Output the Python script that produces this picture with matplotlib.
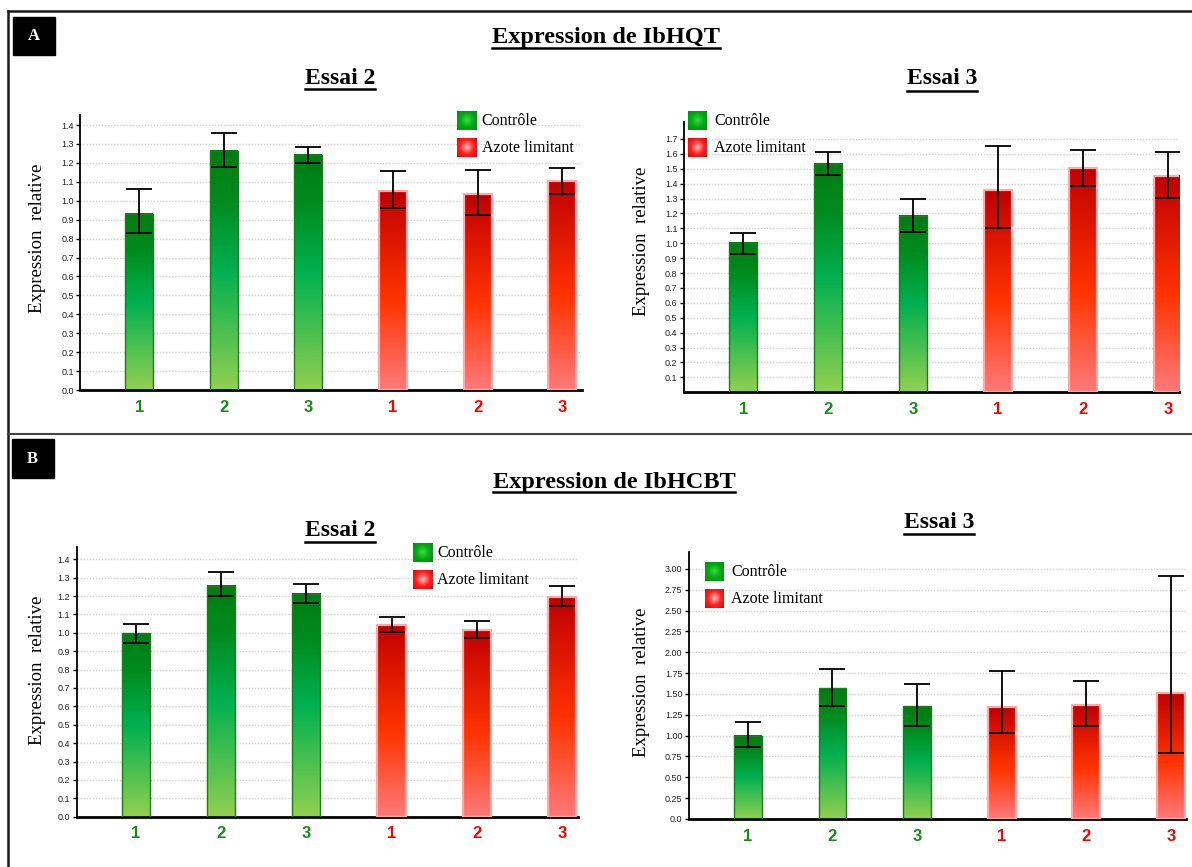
import numpy as np
import matplotlib.pyplot as plt
from matplotlib.colors import LinearSegmentedColormap
from matplotlib.patches import Rectangle
from matplotlib.lines import Line2D

# ---------------------------------------------------------------- data
samples = ['1', '2', '3', '1', '2', '3']
legend_labels = ['Contrôle', 'Azote limitant']

# IbHQT, essai 2
hqt2_mean = [0.93, 1.265, 1.243, 1.053, 1.035, 1.102]
hqt2_low = [0.829, 1.178, 1.197, 0.961, 0.926, 1.035]
hqt2_high = [1.062, 1.356, 1.282, 1.159, 1.164, 1.171]

# IbHQT, essai 3
hqt3_mean = [1.0, 1.535, 1.185, 1.355, 1.505, 1.45]
hqt3_low = [0.93, 1.46, 1.078, 1.105, 1.385, 1.305]
hqt3_high = [1.07, 1.615, 1.295, 1.65, 1.625, 1.615]

# IbHCBT, essai 2
hcbt2_mean = [1.0, 1.257, 1.213, 1.043, 1.017, 1.193]
hcbt2_low = [0.943, 1.198, 1.162, 1.006, 0.972, 1.146]
hcbt2_high = [1.05, 1.33, 1.267, 1.085, 1.062, 1.253]

# IbHCBT, essai 3
hcbt3_mean = [1.0, 1.57, 1.355, 1.345, 1.362, 1.515]
hcbt3_low = [0.865, 1.36, 1.115, 1.035, 1.115, 0.79]
hcbt3_high = [1.16, 1.80, 1.625, 1.77, 1.66, 2.92]

ticks_14 = [0.0, 0.1, 0.2, 0.3, 0.4, 0.5, 0.6, 0.7, 0.8, 0.9, 1.0, 1.1, 1.2, 1.3, 1.4]
ticks_17 = [0.1, 0.2, 0.3, 0.4, 0.5, 0.6, 0.7, 0.8, 0.9, 1.0, 1.1, 1.2, 1.3, 1.4, 1.5, 1.6, 1.7]
ticks_3 = [0.0, 0.25, 0.5, 0.75, 1.0, 1.25, 1.5, 1.75, 2.0, 2.25, 2.5, 2.75, 3.0]
ticks_3_labels = ['0.0', '0.25', '0.50', '0.75', '1.00', '1.25', '1.50', '1.75',
                  '2.00', '2.25', '2.50', '2.75', '3.00']

# ---------------------------------------------------------------- figure
W, H = 1192, 867
fig = plt.figure(figsize=(W / 100, H / 100), dpi=100)
fig.patch.set_facecolor('white')


def fx(x):
    return x / W


def fy(y):
    return 1 - y / H


cm_green = LinearSegmentedColormap.from_list(
    'g', [(0, '#92d050'), (0.5, '#00b050'), (0.8, '#008a1e'), (1, '#007d10')])
cm_red = LinearSegmentedColormap.from_list(
    'r', [(0, '#ff7a7a'), (0.45, '#ff3300'), (1, '#c00000')])
cm_leg_green = LinearSegmentedColormap.from_list('lg', ['#3ade3a', '#00a814', '#008c10'])
cm_leg_red = LinearSegmentedColormap.from_list('lr', ['#ffc0c0', '#ff2020', '#e00000'])

GREEN_TXT = '#1a8a1a'
RED_TXT = '#ff0000'


def panel(px, means, low, high, yticks, ylabels, ytop, xright, lab_xy):
    x0, y0, x1, y1 = px  # pixel box, y from top
    ax = fig.add_axes([fx(x0), fy(y1), (x1 - x0) / W, (y1 - y0) / H])
    means = np.array(means)
    low = np.array(low)
    high = np.array(high)
    xs = np.arange(len(means))
    w = 0.33
    grad = np.linspace(0, 1, 256).reshape(-1, 1)
    for t in yticks:
        ax.axhline(t, color='#d2d2d2', lw=1.0, ls=(0, (1, 1.2)), zorder=1)
    for i, (xi, m) in enumerate(zip(xs, means)):
        if i < 3:
            ax.imshow(grad, cmap=cm_green, origin='lower', aspect='auto',
                      extent=[xi - w / 2, xi + w / 2, 0, m], zorder=2)
            ax.add_patch(Rectangle((xi - w / 2, 0), w, m, fill=False,
                                   ec='#1f7a1f', lw=1.0, zorder=3))
        else:
            ax.imshow(grad, cmap=cm_red, origin='lower', aspect='auto',
                      extent=[xi - w / 2, xi + w / 2, 0, m], zorder=2)
            ax.add_patch(Rectangle((xi - w / 2, 0), w, m, fill=False,
                                   ec='#ffaaaa', lw=1.6, zorder=3))
    ax.errorbar(xs, means, yerr=[means - low, high - means], fmt='none',
                ecolor='black', elinewidth=1.3, capsize=9.5, capthick=1.3, zorder=4)
    ax.set_xlim(-0.70, xright)
    ax.set_ylim(0, ytop)
    ax.set_yticks(yticks)
    ax.set_yticklabels(ylabels, fontsize=6.5, family='Liberation Sans', color='#222222')
    ax.set_xticks(xs)
    ax.set_xticklabels(samples, fontsize=12, fontweight='bold', family='Liberation Sans')
    for i, lab in enumerate(ax.get_xticklabels()):
        lab.set_color(GREEN_TXT if i < 3 else RED_TXT)
    ax.tick_params(axis='y', length=3, width=1, pad=1.5)
    ax.tick_params(axis='x', length=0, pad=7)
    for s in ['top', 'right']:
        ax.spines[s].set_visible(False)
    ax.spines['left'].set_linewidth(1.3)
    ax.spines['bottom'].set_linewidth(2.0)
    ax.set_facecolor('none')
    ax.set_ylabel('Expression  relative', fontsize=13.5, family='Liberation Serif', va='center')
    ax.yaxis.set_label_coords(*lab_xy)
    return ax


def legend_box(xg, yg, xt):
    for k, (lab, cm) in enumerate(zip(legend_labels, [cm_leg_green, cm_leg_red])):
        top = yg + k * 27
        lax = fig.add_axes([fx(xg), fy(top + 19.5), 19 / W, 19.5 / H])
        yy, xx = np.mgrid[-1:1:40j, -1:1:40j]
        lax.imshow(np.hypot(xx, yy), cmap=cm, vmin=0, vmax=1.45, aspect='auto')
        lax.axis('off')
        fig.text(fx(xt), fy(top + 10), lab, fontsize=11.5, family='Liberation Serif',
                 va='center', ha='left')


panel((80, 115, 581.7, 390), hqt2_mean, hqt2_low, hqt2_high,
      ticks_14, ['%.1f' % t for t in ticks_14], 1.453, 5.23, (-0.084, 0.55))
panel((683.8, 121.7, 1179, 392.3), hqt3_mean, hqt3_low, hqt3_high,
      ticks_17, ['%.1f' % t for t in ticks_17], 1.816, 5.13, (-0.085, 0.557))
panel((76.5, 547.3, 578, 816.7), hcbt2_mean, hcbt2_low, hcbt2_high,
      ticks_14, ['%.1f' % t for t in ticks_14], 1.465, 5.19, (-0.077, 0.545))
panel((688.7, 552.3, 1186, 819), hcbt3_mean, hcbt3_low, hcbt3_high,
      ticks_3, ticks_3_labels, 3.2, 5.18, (-0.095, 0.514))

legend_box(457, 111, 481.5)
legend_box(688, 111, 714)
legend_box(413, 543, 437)
legend_box(705, 562, 731)

# titles (underlined)
underlined = []


def utitle(x, y, s, size, yline):
    t = fig.text(fx(x), fy(y), s, fontsize=size, fontweight='bold',
                 family='Liberation Serif', ha='center', va='center')
    underlined.append((t, yline))


utitle(606, 38, 'Expression de IbHQT', 17.5, 48)
utitle(340, 79, 'Essai 2', 17, 89)
utitle(942, 79, 'Essai 3', 17, 91)
utitle(614, 482, 'Expression de IbHCBT', 17.5, 492)
utitle(340, 530, 'Essai 2', 17, 541.5)
utitle(939, 523, 'Essai 3', 17, 534)

# frame and letter boxes
fig.add_artist(Line2D([fx(7.7), 1], [fy(11), fy(11)], color='#1a1a1a', lw=1.8))
fig.add_artist(Line2D([fx(7.7), fx(7.7)], [fy(11), 0], color='#1a1a1a', lw=1.8))
fig.add_artist(Line2D([fx(7.7), 1], [fy(433.5), fy(433.5)], color='#444444', lw=1.5))
for letter, (bx0, by0, bx1, by1) in [('A', (12.6, 16.7, 54.7, 55)),
                                      ('B', (11.5, 439.3, 53.6, 478.3))]:
    fig.add_artist(Rectangle((fx(bx0), fy(by1)), (bx1 - bx0) / W, (by1 - by0) / H,
                             transform=fig.transFigure, color='black'))
    fig.text(fx((bx0 + bx1) / 2), fy((by0 + by1) / 2), letter, color='white',
             fontsize=12, fontweight='bold', family='Liberation Serif',
             ha='center', va='center')

fig.canvas.draw()
r = fig.canvas.get_renderer()
for t, yline in underlined:
    bb = t.get_window_extent(r)
    fig.add_artist(Line2D([bb.x0 / W, bb.x1 / W], [fy(yline), fy(yline)],
                          color='black', lw=1.8))

fig.savefig('out.png', dpi=100)
